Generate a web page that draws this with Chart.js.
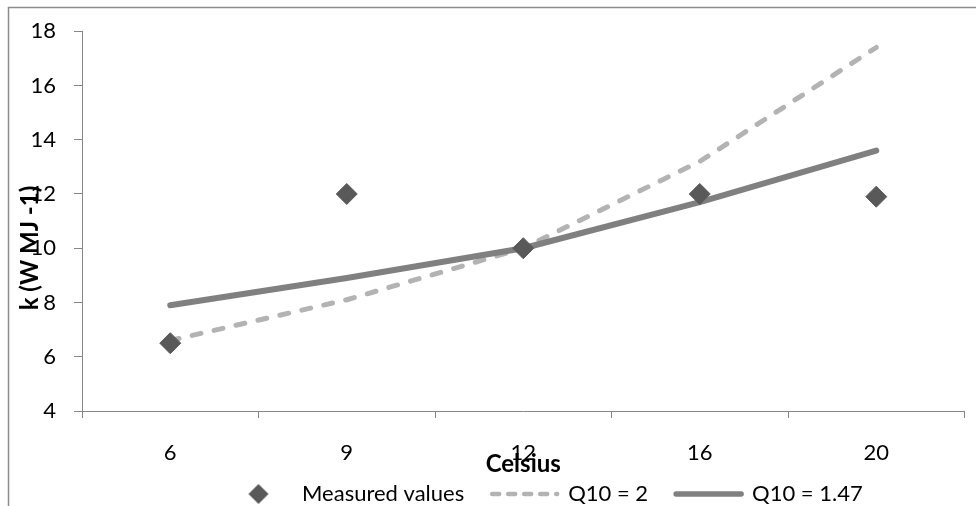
<!DOCTYPE html>
<html>
<head>
<meta charset="utf-8">
<script src="https://cdn.jsdelivr.net/npm/chart.js@4"></script>
<style>
  html, body { margin: 0; padding: 0; background: #fff; }
  #wrap { width: 976px; height: 506px; }
</style>
</head>
<body>
<div id="wrap"><canvas id="kChart"></canvas></div>
<script>
// data
const categories = ['6', '9', '12', '16', '20'];
const measuredValues = [6.5, 12.0, 10.0, 12.0, 11.9];
const q10TwoValues = [6.6, 8.1, 10.0, 13.2, 17.4];
const q10FitValues = [7.9, 8.9, 10.0, 11.7, 13.6];
const yTicks = [4, 6, 8, 10, 12, 14, 16, 18];
const seriesNames = ['Measured values', 'Q10 = 2', 'Q10 = 1.47'];
const xTitle = 'Celsius';
const yTitle = 'k (W MJ -1)';

const AXIS = '#868686';
const PLOT_BOTTOM = 411;

Chart.defaults.font.family = 'Lato, "Open Sans", sans-serif';
Chart.defaults.font.size = 22;
Chart.defaults.color = '#000';

// small diamond for the legend (rectRot gets stretched by pointStyleWidth)
function diamondIcon(r, color) {
    const c = document.createElement('canvas');
    c.width = c.height = 2 * r + 2;
    const g = c.getContext('2d');
    g.fillStyle = color;
    g.beginPath();
    g.moveTo(r + 1, 1);
    g.lineTo(2 * r + 1, r + 1);
    g.lineTo(r + 1, 2 * r + 1);
    g.lineTo(1, r + 1);
    g.closePath();
    g.fill();
    return c;
}
const legendDiamond = diamondIcon(10, '#595959');

const extras = {
    id: 'extras',
    beforeDraw(chart) {
        const ctx = chart.ctx;
        ctx.save();
        ctx.strokeStyle = '#8c8c8c';
        ctx.lineWidth = 1.5;
        ctx.strokeRect(8.5, 7.5, chart.width + 20, chart.height + 20);
        ctx.restore();
    },
    afterLayout(chart) {
        // Excel puts the legend a bit right of centre and low
        chart.legend.left = 198;
        chart.legend.top = 455;
        // let the x labels run under the legend instead of being clipped
        const x = chart.scales.x;
        x.bottom = chart.height;
        x.height = x.bottom - x.top;
    },
    afterDraw(chart) {
        const ctx = chart.ctx;
        const area = chart.chartArea;
        ctx.save();
        ctx.fillStyle = '#000';
        ctx.font = 'bold 24px Lato, "Open Sans", sans-serif';
        ctx.textAlign = 'center';
        ctx.textBaseline = 'alphabetic';
        ctx.fillText(xTitle, (area.left + area.right) / 2, 472);
        ctx.translate(38, 248);
        ctx.rotate(-Math.PI / 2);
        ctx.fillText(yTitle, 0, 0);
        ctx.restore();
    }
};

new Chart(document.getElementById('kChart'), {
    type: 'line',
    data: {
        labels: categories,
        datasets: [
            {
                label: seriesNames[0],
                data: measuredValues,
                showLine: false,
                pointStyle: 'rectRot',
                pointRadius: 10.5,
                pointBorderWidth: 1,
                backgroundColor: '#595959',
                borderColor: '#595959',
                order: 0
            },
            {
                label: seriesNames[1],
                data: q10TwoValues,
                borderColor: '#b3b3b3',
                backgroundColor: '#b3b3b3',
                borderWidth: 5,
                borderDash: [9, 13.5],
                borderCapStyle: 'round',
                borderJoinStyle: 'round',
                pointRadius: 0,
                tension: 0,
                order: 2
            },
            {
                label: seriesNames[2],
                data: q10FitValues,
                borderColor: '#808080',
                backgroundColor: '#808080',
                borderWidth: 6,
                borderCapStyle: 'round',
                borderJoinStyle: 'round',
                pointRadius: 0,
                tension: 0,
                order: 1
            }
        ]
    },
    options: {
        responsive: true,
        maintainAspectRatio: false,
        animation: false,
        layout: { padding: { left: 0, top: 25, right: 6, bottom: 0 } },
        scales: {
            x: {
                offset: true,
                grid: { offset: true, drawOnChartArea: false, color: AXIS, tickLength: 7 },
                border: { color: AXIS, width: 1 },
                ticks: { padding: 22, maxRotation: 0 },
                afterFit: s => { s.height = s.chart.height - PLOT_BOTTOM - s.chart.legend.height; }
            },
            y: {
                min: yTicks[0],
                max: yTicks[yTicks.length - 1],
                ticks: { stepSize: yTicks[1] - yTicks[0], padding: 18 },
                grid: { drawOnChartArea: false, color: AXIS, tickLength: 8 },
                border: { color: AXIS, width: 1 },
                afterFit: s => { s.width = 82; }
            }
        },
        plugins: {
            tooltip: { enabled: false },
            legend: {
                position: 'bottom',
                align: 'start',
                labels: {
                    usePointStyle: true,
                    pointStyleWidth: 65,
                    boxHeight: 14,
                    padding: 28,
                    color: '#000',
                    font: { size: 22 },
                    generateLabels: chart => chart.data.datasets.map((ds, i) => ({
                        text: ds.label,
                        datasetIndex: i,
                        pointStyle: i === 0 ? legendDiamond : 'line',
                        fillStyle: ds.backgroundColor,
                        strokeStyle: ds.borderColor,
                        lineWidth: i === 0 ? 0 : ds.borderWidth - 0.5,
                        lineDash: i === 1 ? [7, 9] : [],
                        lineCap: 'round',
                        hidden: false
                    }))
                }
            }
        }
    },
    plugins: [extras]
});
</script>
</body>
</html>
